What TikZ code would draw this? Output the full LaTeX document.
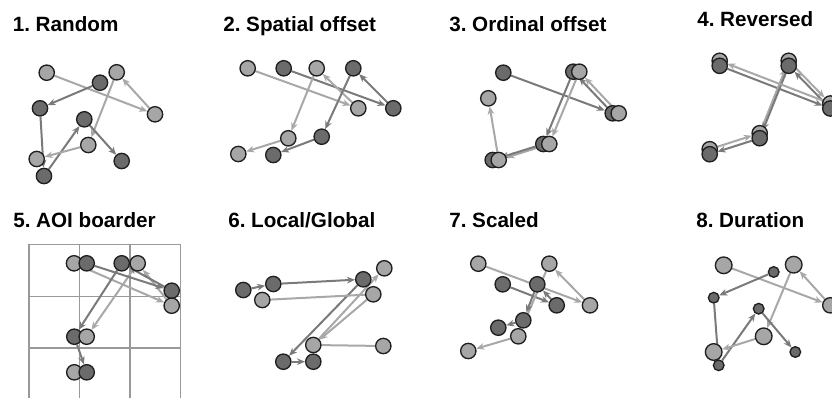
\documentclass[tikz,border=0pt]{standalone}
\usepackage{fontspec}
\setmainfont{Liberation Sans}
\usetikzlibrary{arrows.meta,backgrounds}

\begin{document}
\begin{tikzpicture}[x=0.75pt,y=-0.75pt,
  fixa/.style={circle,draw=black!88,line width=1pt,fill=black!35,
    minimum size=11.5pt,inner sep=0pt},
  fixb/.style={fixa,fill=black!58},
  bigfix/.style={minimum size=12.5pt},
  smallfix/.style={minimum size=8pt},
  sacca/.style={draw=black!34,line width=1.5pt,
    -{Stealth[length=6pt,width=5pt]}},
  saccb/.style={sacca,draw=black!52},
  aoi/.style={draw=black!40,line width=1.1pt},
  title/.style={anchor=base west,inner sep=0pt,
    font=\fontsize{15.5}{18}\selectfont\bfseries\frenchspacing}]
\useasboundingbox (0,0) rectangle (832,397);

% 1. Random
\node[title] (t1) at (12.5,31.5) {1. Random};
\node[fixa] (ra1) at (46.7,72.7) {};
\node[fixa] (ra2) at (155,114.3) {};
\node[fixa] (ra3) at (116.7,72.3) {};
\node[fixa] (ra4) at (88.3,145) {};
\node[fixa] (ra5) at (36.7,159) {};
\node[fixb] (rb1) at (100,82.7) {};
\node[fixb] (rb2) at (40,108.3) {};
\node[fixb] (rb3) at (44,176) {};
\node[fixb] (rb4) at (84.3,119.3) {};
\node[fixb] (rb5) at (121.7,161) {};
\begin{scope}[on background layer]
\foreach \i/\j in {1/2,2/3,3/4,4/5} {
  \draw[sacca] (ra\i) -- (ra\j);
  \draw[saccb] (rb\i) -- (rb\j);
}
\end{scope}

% 2. Spatial offset
\node[title] (t2) at (223,31.5) {2. Spatial offset};
\node[fixa] (sa1) at (247.7,68.3) {};
\node[fixa] (sa2) at (358.3,108.3) {};
\node[fixa] (sa3) at (316.7,68.3) {};
\node[fixa] (sa4) at (288.3,138.3) {};
\node[fixa] (sa5) at (238.3,154) {};
\node[fixb] (sb1) at (283.7,68.3) {};
\node[fixb] (sb2) at (393.3,108.3) {};
\node[fixb] (sb3) at (353.3,68.3) {};
\node[fixb] (sb4) at (321.7,136.7) {};
\node[fixb] (sb5) at (273.3,155) {};
\begin{scope}[on background layer]
\foreach \i/\j in {1/2,2/3,3/4,4/5} {
  \draw[sacca] (sa\i) -- (sa\j);
  \draw[saccb] (sb\i) -- (sb\j);
}
\end{scope}

% 3. Ordinal offset
\node[title] (t3) at (449,31.5) {3. Ordinal offset};
\node[fixb] (ob1) at (503.3,72.7) {};
\node[fixb] (ob2) at (612.7,113.3) {};
\node[fixb] (ob3) at (573.3,71.7) {};
\node[fixb] (ob4) at (543.3,144) {};
\node[fixb] (ob5) at (492.7,160) {};
\node[fixa] (oa1) at (618.7,113.3) {};
\node[fixa] (oa2) at (579.3,71.7) {};
\node[fixa] (oa3) at (549.3,144) {};
\node[fixa] (oa4) at (498.7,160) {};
\node[fixa] (oa5) at (488.3,98.3) {};
\begin{scope}[on background layer]
\foreach \i/\j in {1/2,2/3,3/4,4/5} {
  \draw[sacca] (oa\i) -- (oa\j);
  \draw[saccb] (ob\i) -- (ob\j);
}
\end{scope}

% 4. Reversed
\node[title] (t4) at (697,26.5) {4. Reversed};
\node[fixa] (va1) at (709.7,149.2) {};
\node[fixa] (va2) at (759.7,133.2) {};
\node[fixa] (va3) at (788.7,60.8) {};
\node[fixa] (va4) at (830.3,103.5) {};
\node[fixa] (va5) at (719.7,60.8) {};
\node[fixb] (vb1) at (719.7,65.8) {};
\node[fixb] (vb2) at (830.3,108.5) {};
\node[fixb] (vb3) at (788.7,65.8) {};
\node[fixb] (vb4) at (759.7,138.2) {};
\node[fixb] (vb5) at (709.7,154.2) {};
\begin{scope}[on background layer]
\foreach \i/\j in {1/2,2/3,3/4,4/5} {
  \draw[sacca] (va\i) -- (va\j);
  \draw[saccb] (vb\i) -- (vb\j);
}
\end{scope}

% 5. AOI boarder
\node[title] (t5) at (13,227) {5. AOI boarder};
\node[fixa] (aa1) at (74,263.3) {};
\node[fixb] (ab1) at (86.7,263.3) {};
\node[fixb] (ab3) at (121.7,263.3) {};
\node[fixa] (aa3) at (137.7,263.3) {};
\node[fixb] (ab2) at (171.7,290.7) {};
\node[fixa] (aa2) at (171.7,305.7) {};
\node[fixb] (ab4) at (74.3,336.7) {};
\node[fixa] (aa4) at (86.7,336.7) {};
\node[fixa] (aa5) at (74.3,372.3) {};
\node[fixb] (ab5) at (86.7,372.3) {};
\begin{scope}[on background layer]
% grid of the areas of interest
\draw[aoi] (29,244.5) rectangle (180.5,399.5);
\foreach \x in {79.5,130}
  \draw[aoi] (\x,244.5) -- (\x,399.5);
\foreach \y in {296.5,348}
  \draw[aoi] (29,\y) -- (180.5,\y);
\foreach \i/\j in {1/2,2/3,3/4} \draw[sacca] (aa\i) -- (aa\j);
\foreach \i/\j in {1/2,2/3,3/4,4/5} \draw[saccb] (ab\i) -- (ab\j);
\end{scope}

% 6. Local/Global
\node[title] (t6) at (228,227.5) {6. Local/Global};
\node[fixb] (lb1) at (243.3,290) {};
\node[fixb] (lb2) at (273.3,284) {};
\node[fixb] (lb3) at (363.3,279.3) {};
\node[fixb] (lb4) at (283.3,361.7) {};
\node[fixb] (lb5) at (313.3,361.7) {};
\node[fixa] (la1) at (262.3,300) {};
\node[fixa] (la2) at (373.3,294.3) {};
\node[fixa] (la3) at (313.3,345) {};
\node[fixa] (la4) at (384.3,268.3) {};
\node[fixa] (la5) at (383.3,346) {};
\begin{scope}[on background layer]
\foreach \i/\j in {1/2,2/3,3/4,4/5} \draw[saccb] (lb\i) -- (lb\j);
\draw[sacca,-] (la1) -- (la2);
\draw[sacca] (la2) -- (la3);
\draw[sacca] (la3) -- (la4);
\draw[sacca,-] (la5) -- (la3);
\end{scope}

% 7. Scaled
\node[title] (t7) at (449,227) {7. Scaled};
\node[fixa] (ca1) at (478.3,263.7) {};
\node[fixa] (ca2) at (590,305.3) {};
\node[fixa] (ca3) at (549.3,263.7) {};
\node[fixa] (ca4) at (518.3,336.3) {};
\node[fixa] (ca5) at (468.3,351) {};
\node[fixb] (cb1) at (502.7,284.3) {};
\node[fixb] (cb2) at (556.7,305.3) {};
\node[fixb] (cb3) at (537.3,284.3) {};
\node[fixb] (cb4) at (523.3,320.3) {};
\node[fixb] (cb5) at (498.3,327.7) {};
\begin{scope}[on background layer]
\foreach \i/\j in {1/2,2/3,3/4,4/5} {
  \draw[sacca] (ca\i) -- (ca\j);
  \draw[saccb] (cb\i) -- (cb\j);
}
\end{scope}

% 8. Duration
\node[title] (t8) at (696,227) {8. Duration};
\node[fixa,bigfix] (da1) at (723.7,265.3) {};
\node[fixa] (da2) at (830.3,305.3) {};
\node[fixa,bigfix] (da3) at (793.7,264.7) {};
\node[fixa,bigfix] (da4) at (763.7,336.3) {};
\node[fixa,bigfix] (da5) at (713.7,352) {};
\node[fixb,smallfix] (db1) at (773.7,272) {};
\node[fixb,smallfix] (db2) at (713.7,297.7) {};
\node[fixb,smallfix] (db3) at (718.7,365.3) {};
\node[fixb,smallfix] (db4) at (758.7,308.7) {};
\node[fixb,smallfix] (db5) at (795.3,352) {};
\begin{scope}[on background layer]
\foreach \i/\j in {1/2,2/3,3/4,4/5} {
  \draw[sacca] (da\i) -- (da\j);
  \draw[saccb] (db\i) -- (db\j);
}
\end{scope}
\end{tikzpicture}
\end{document}
